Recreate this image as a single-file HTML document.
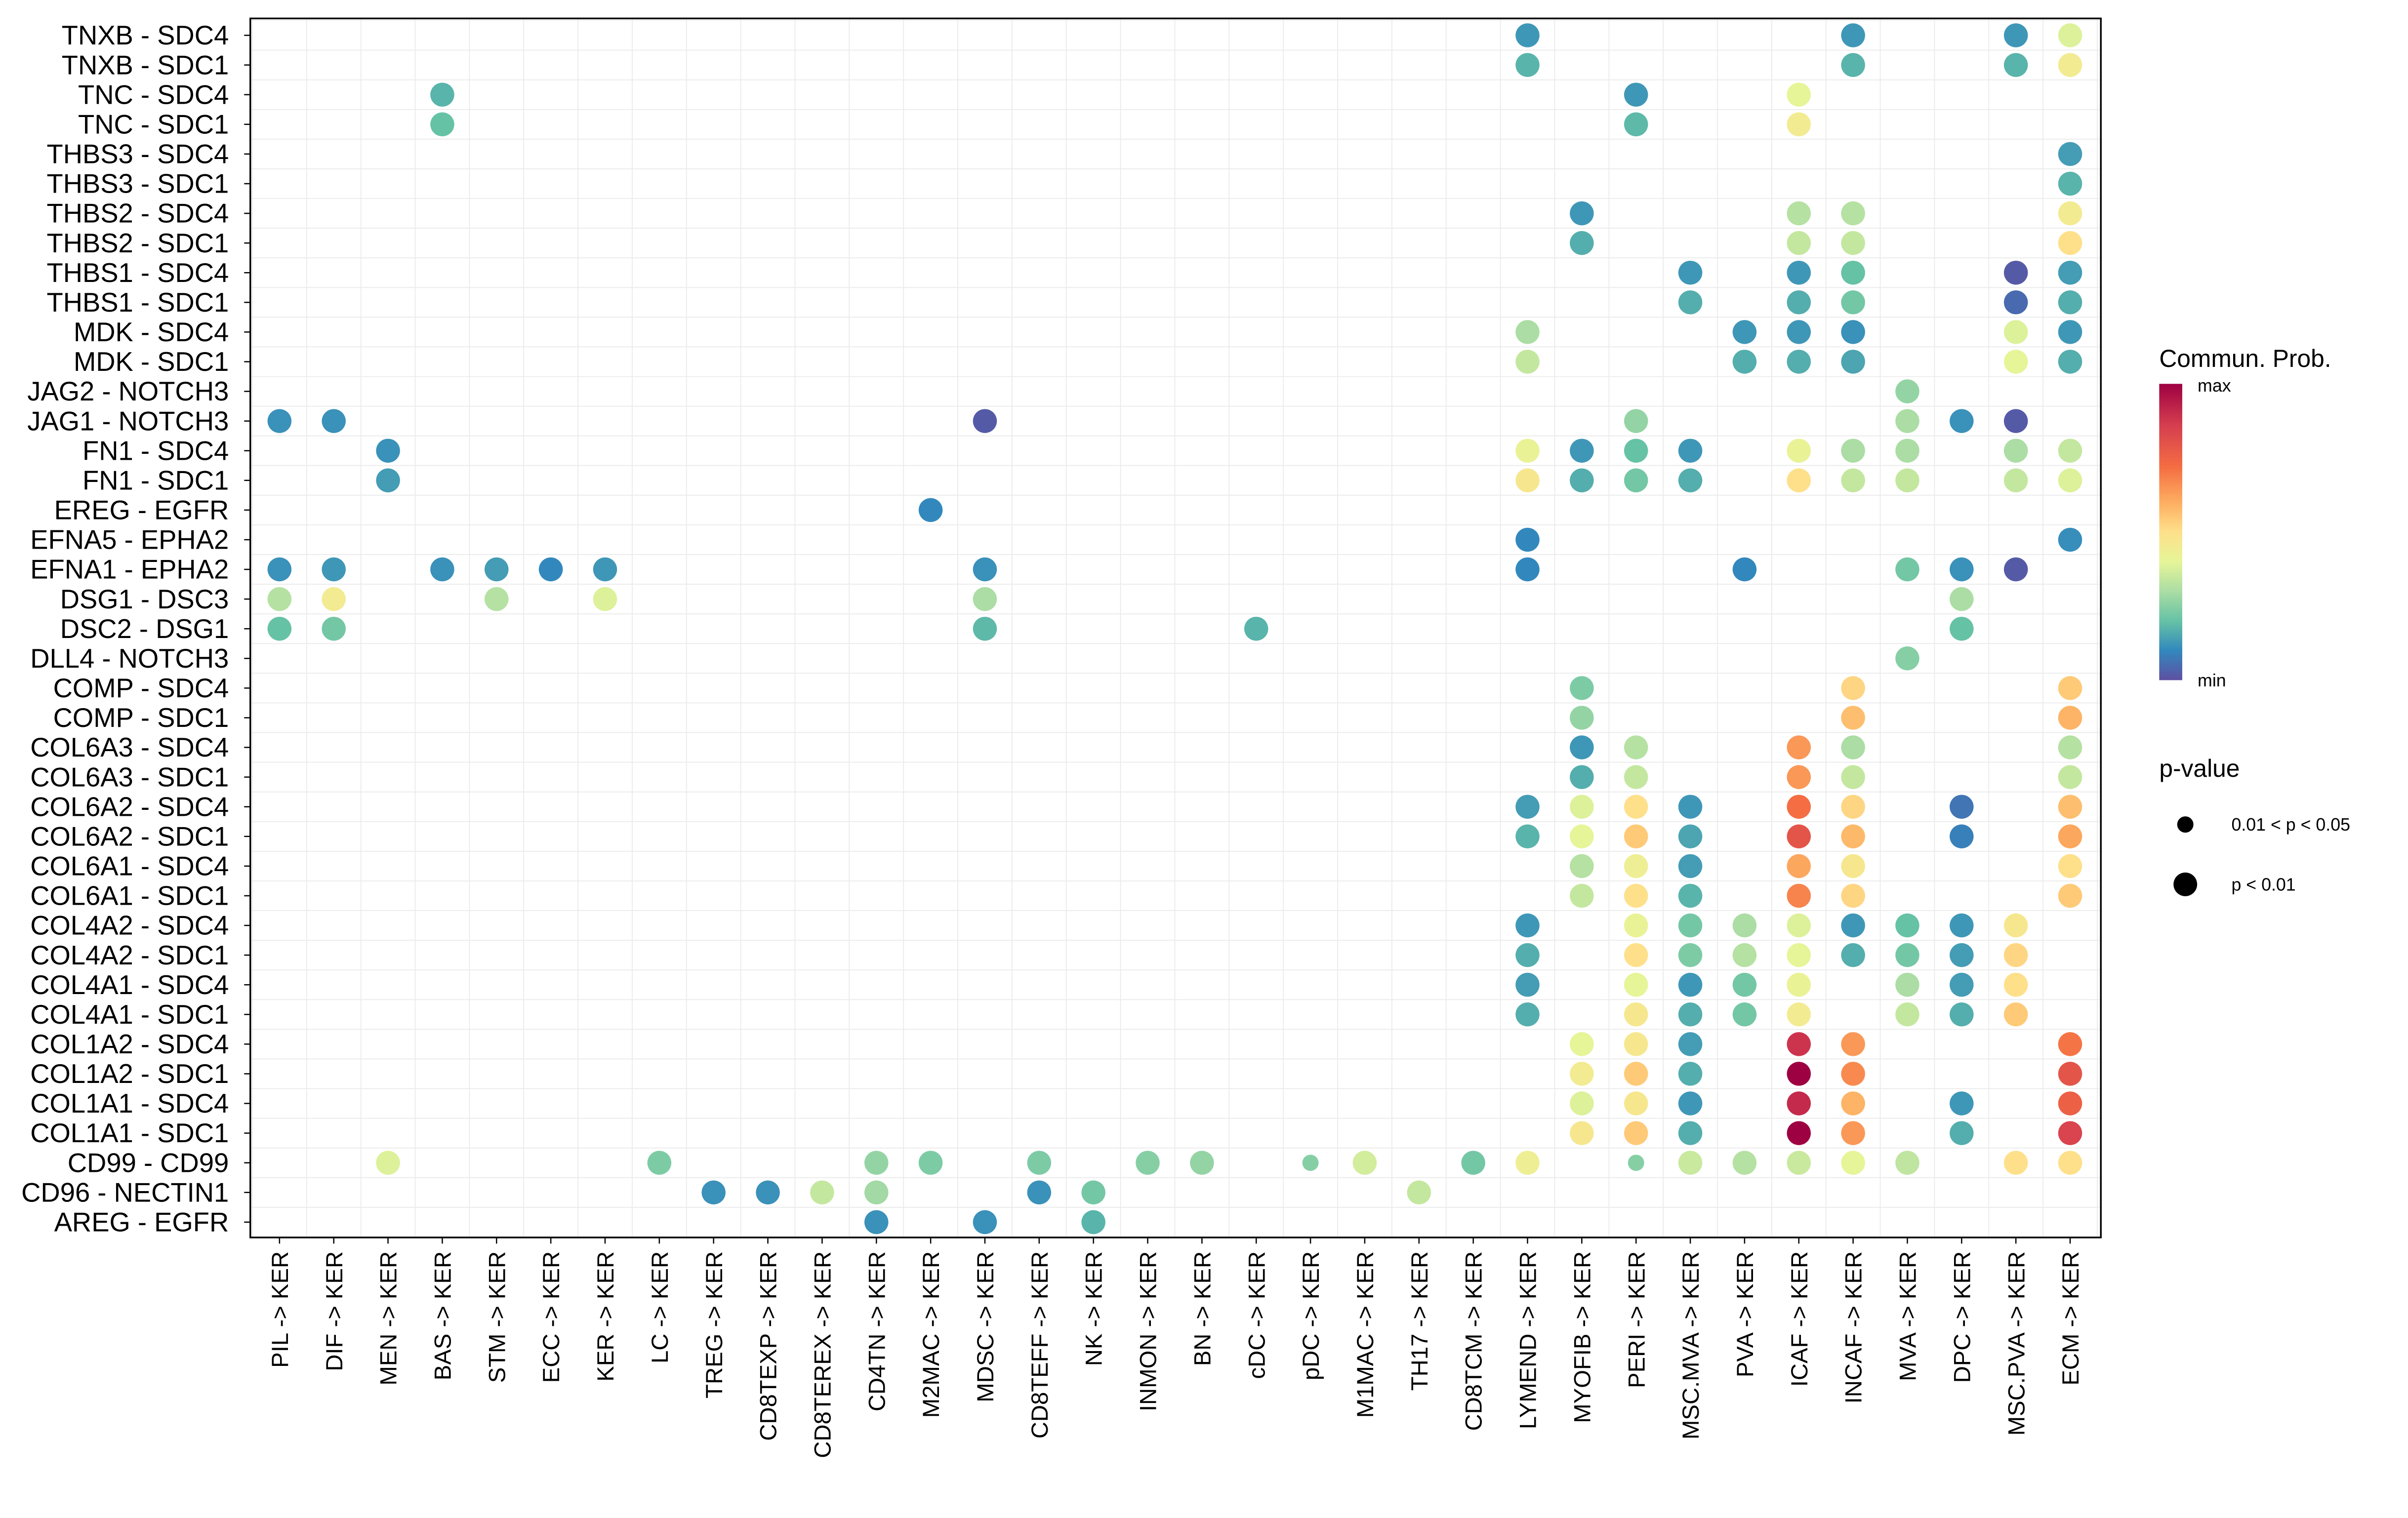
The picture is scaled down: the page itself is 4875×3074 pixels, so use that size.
<!DOCTYPE html>
<html><head><meta charset="utf-8">
<style>
html,body{margin:0;padding:0;background:#fff;}
svg{display:block;font-family:"Liberation Sans",sans-serif;}
</style></head>
<body>
<svg id="chart" width="4875" height="3074" viewBox="0 0 1568 988.7" xmlns="http://www.w3.org/2000/svg">
<defs>
<linearGradient id="cbar" x1="0" y1="1" x2="0" y2="0">
<stop offset="0" stop-color="#5E4FA2"/><stop offset="0.1" stop-color="#3288BD"/><stop offset="0.2" stop-color="#66C2A5"/><stop offset="0.3" stop-color="#ABDDA4"/><stop offset="0.4" stop-color="#E6F598"/><stop offset="0.5" stop-color="#FEE08B"/><stop offset="0.6" stop-color="#FDAE61"/><stop offset="0.72" stop-color="#F46D43"/><stop offset="0.86" stop-color="#D53E4F"/><stop offset="1" stop-color="#9E0142"/>
</linearGradient>
</defs>
<g id="grid"></g>
<g id="dots"></g>
<rect x="163" y="12" width="1205" height="794" fill="none" stroke="#000" stroke-width="1.1"/>
<g id="yax"></g>
<g id="xax"></g>
<g>
<text x="1406" y="239" font-size="16">Commun. Prob.</text>
<rect x="1406" y="250" width="15" height="193" fill="url(#cbar)"/>
<text x="1431" y="255" font-size="11.5">max</text>
<text x="1431" y="447" font-size="11.5">min</text>
</g>
<g>
<text x="1406" y="506" font-size="16">p-value</text>
<circle cx="1423" cy="537" r="5.3" fill="#000"/>
<text x="1453" y="541" font-size="11.5">0.01 &lt; p &lt; 0.05</text>
<circle cx="1423" cy="576" r="7.7" fill="#000"/>
<text x="1453" y="580" font-size="11.5">p &lt; 0.01</text>
</g>
</svg>
<script>
const rowLabels = ["TNXB - SDC4","TNXB - SDC1","TNC - SDC4","TNC - SDC1","THBS3 - SDC4","THBS3 - SDC1","THBS2 - SDC4","THBS2 - SDC1","THBS1 - SDC4","THBS1 - SDC1","MDK - SDC4","MDK - SDC1","JAG2 - NOTCH3","JAG1 - NOTCH3","FN1 - SDC4","FN1 - SDC1","EREG - EGFR","EFNA5 - EPHA2","EFNA1 - EPHA2","DSG1 - DSC3","DSC2 - DSG1","DLL4 - NOTCH3","COMP - SDC4","COMP - SDC1","COL6A3 - SDC4","COL6A3 - SDC1","COL6A2 - SDC4","COL6A2 - SDC1","COL6A1 - SDC4","COL6A1 - SDC1","COL4A2 - SDC4","COL4A2 - SDC1","COL4A1 - SDC4","COL4A1 - SDC1","COL1A2 - SDC4","COL1A2 - SDC1","COL1A1 - SDC4","COL1A1 - SDC1","CD99 - CD99","CD96 - NECTIN1","AREG - EGFR"];
const colLabels = ["PIL","DIF","MEN","BAS","STM","ECC","KER","LC","TREG","CD8TEXP","CD8TEREX","CD4TN","M2MAC","MDSC","CD8TEFF","NK","INMON","BN","cDC","pDC","M1MAC","TH17","CD8TCM","LYMEND","MYOFIB","PERI","MSC.MVA","PVA","ICAF","INCAF","MVA","DPC","MSC.PVA","ECM"];
const pointRows = [];
const pointCols = [];
const pointProb = [];
const pointSig = [];
const rawData = [
["TNXB - SDC4",[["LYMEND",.2],["INCAF",.2],["MSC.PVA",.2],["ECM",.6]]],
["TNXB - SDC1",[["LYMEND",.3],["INCAF",.3],["MSC.PVA",.3],["ECM",.65]]],
["TNC - SDC4",[["BAS",.3],["PERI",.2],["ICAF",.62]]],
["TNC - SDC1",[["BAS",.35],["PERI",.32],["ICAF",.65]]],
["THBS3 - SDC4",[["ECM",.22]]],
["THBS3 - SDC1",[["ECM",.3]]],
["THBS2 - SDC4",[["MYOFIB",.2],["ICAF",.52],["INCAF",.52],["ECM",.65]]],
["THBS2 - SDC1",[["MYOFIB",.28],["ICAF",.55],["INCAF",.55],["ECM",.68]]],
["THBS1 - SDC4",[["MSC.MVA",.2],["ICAF",.2],["INCAF",.35],["MSC.PVA",.03],["ECM",.22]]],
["THBS1 - SDC1",[["MSC.MVA",.28],["ICAF",.28],["INCAF",.38],["MSC.PVA",.07],["ECM",.28]]],
["MDK - SDC4",[["LYMEND",.5],["PVA",.2],["ICAF",.2],["INCAF",.18],["MSC.PVA",.6],["ECM",.2]]],
["MDK - SDC1",[["LYMEND",.55],["PVA",.28],["ICAF",.28],["INCAF",.25],["MSC.PVA",.62],["ECM",.28]]],
["JAG2 - NOTCH3",[["MVA",.45]]],
["JAG1 - NOTCH3",[["PIL",.18],["DIF",.18],["MDSC",.03],["PERI",.45],["MVA",.5],["DPC",.18],["MSC.PVA",.03]]],
["FN1 - SDC4",[["MEN",.18],["LYMEND",.63],["MYOFIB",.2],["PERI",.35],["MSC.MVA",.2],["ICAF",.63],["INCAF",.5],["MVA",.5],["MSC.PVA",.5],["ECM",.55]]],
["FN1 - SDC1",[["MEN",.22],["LYMEND",.66],["MYOFIB",.28],["PERI",.38],["MSC.MVA",.28],["ICAF",.68],["INCAF",.55],["MVA",.55],["MSC.PVA",.55],["ECM",.6]]],
["EREG - EGFR",[["M2MAC",.15]]],
["EFNA5 - EPHA2",[["LYMEND",.15],["ECM",.17]]],
["EFNA1 - EPHA2",[["PIL",.18],["DIF",.2],["BAS",.18],["STM",.22],["ECC",.15],["KER",.2],["MDSC",.18],["LYMEND",.15],["PVA",.15],["MVA",.38],["DPC",.18],["MSC.PVA",.03]]],
["DSG1 - DSC3",[["PIL",.52],["DIF",.65],["STM",.52],["KER",.6],["MDSC",.5],["DPC",.5]]],
["DSC2 - DSG1",[["PIL",.35],["DIF",.38],["MDSC",.32],["cDC",.3],["DPC",.35]]],
["DLL4 - NOTCH3",[["MVA",.42]]],
["COMP - SDC4",[["MYOFIB",.4],["INCAF",.7],["ECM",.72]]],
["COMP - SDC1",[["MYOFIB",.45],["INCAF",.74],["ECM",.76]]],
["COL6A3 - SDC4",[["MYOFIB",.2],["PERI",.52],["ICAF",.8],["INCAF",.5],["ECM",.52]]],
["COL6A3 - SDC1",[["MYOFIB",.28],["PERI",.55],["ICAF",.8],["INCAF",.55],["ECM",.55]]],
["COL6A2 - SDC4",[["LYMEND",.22],["MYOFIB",.6],["PERI",.68],["MSC.MVA",.2],["ICAF",.86],["INCAF",.7],["DPC",.1],["ECM",.74]]],
["COL6A2 - SDC1",[["LYMEND",.3],["MYOFIB",.62],["PERI",.72],["MSC.MVA",.25],["ICAF",.9],["INCAF",.75],["DPC",.13],["ECM",.78]]],
["COL6A1 - SDC4",[["MYOFIB",.52],["PERI",.64],["MSC.MVA",.22],["ICAF",.78],["INCAF",.66],["ECM",.68]]],
["COL6A1 - SDC1",[["MYOFIB",.55],["PERI",.68],["MSC.MVA",.3],["ICAF",.83],["INCAF",.7],["ECM",.72]]],
["COL4A2 - SDC4",[["LYMEND",.2],["PERI",.63],["MSC.MVA",.38],["PVA",.5],["ICAF",.6],["INCAF",.2],["MVA",.35],["DPC",.2],["MSC.PVA",.66]]],
["COL4A2 - SDC1",[["LYMEND",.28],["PERI",.68],["MSC.MVA",.4],["PVA",.52],["ICAF",.62],["INCAF",.28],["MVA",.38],["DPC",.22],["MSC.PVA",.7]]],
["COL4A1 - SDC4",[["LYMEND",.22],["PERI",.62],["MSC.MVA",.2],["PVA",.38],["ICAF",.63],["MVA",.5],["DPC",.22],["MSC.PVA",.68]]],
["COL4A1 - SDC1",[["LYMEND",.28],["PERI",.66],["MSC.MVA",.28],["PVA",.38],["ICAF",.65],["MVA",.55],["DPC",.28],["MSC.PVA",.72]]],
["COL1A2 - SDC4",[["MYOFIB",.62],["PERI",.66],["MSC.MVA",.22],["ICAF",.95],["INCAF",.8],["ECM",.85]]],
["COL1A2 - SDC1",[["MYOFIB",.65],["PERI",.72],["MSC.MVA",.28],["ICAF",1],["INCAF",.82],["ECM",.9]]],
["COL1A1 - SDC4",[["MYOFIB",.6],["PERI",.66],["MSC.MVA",.2],["ICAF",.96],["INCAF",.76],["DPC",.2],["ECM",.88]]],
["COL1A1 - SDC1",[["MYOFIB",.66],["PERI",.72],["MSC.MVA",.28],["ICAF",1],["INCAF",.8],["DPC",.28],["ECM",.93]]],
["CD99 - CD99",[["MEN",.6],["LC",.4],["CD4TN",.45],["M2MAC",.4],["CD8TEFF",.4],["INMON",.42],["BN",.45],["pDC",.42,0],["M1MAC",.58],["CD8TCM",.38],["LYMEND",.64],["PERI",.42,0],["MSC.MVA",.56],["PVA",.52],["ICAF",.56],["INCAF",.62],["MVA",.54],["MSC.PVA",.68],["ECM",.68]]],
["CD96 - NECTIN1",[["TREG",.18],["CD8TEXP",.18],["CD8TEREX",.55],["CD4TN",.48],["CD8TEFF",.18],["NK",.38],["TH17",.55]]],
["AREG - EGFR",[["CD4TN",.18],["MDSC",.18],["NK",.3]]]
];
rawData.forEach(([r, list]) => list.forEach(p => {
  pointRows.push(r); pointCols.push(p[0]); pointProb.push(p[1]); pointSig.push(p.length > 2 ? p[2] : 1);
}));

const NS = "http://www.w3.org/2000/svg";
const x0 = 182, dx = (1348 - 182) / 33, y0 = 23, dy = (796 - 23) / 40;
function xScale(c){ return x0 + colLabels.indexOf(c) * dx; }
function yScale(r){ return y0 + rowLabels.indexOf(r) * dy; }
const stops = [[0,[94,79,162]],[0.15,[50,136,189]],[0.35,[102,194,165]],[0.5,[171,221,164]],[0.62,[230,245,152]],[0.68,[254,224,139]],[0.77,[253,174,97]],[0.86,[244,109,67]],[0.94,[213,62,79]],[1,[158,1,66]]];
function colorScale(v){
  for (let i = 1; i < stops.length; i++) {
    if (v <= stops[i][0]) {
      const a = stops[i-1], b = stops[i], t = (v - a[0]) / (b[0] - a[0]);
      const c = a[1].map((q, k) => Math.round(q + (b[1][k] - q) * t));
      return `rgb(${c.join(",")})`;
    }
  }
  return "rgb(158,1,66)";
}
function mk(tag, attrs, parent){
  const el = document.createElementNS(NS, tag);
  for (const k in attrs) el.setAttribute(k, attrs[k]);
  parent.appendChild(el);
  return el;
}
const grid = document.getElementById("grid");
for (let i = 0; i <= colLabels.length; i++) {
  const x = x0 + (i - 0.5) * dx;
  const l = mk("line", {x1:x, x2:x, y1:12, y2:806, stroke:"#ebebeb", "stroke-width":0.6}, grid);
  
  
}
for (let i = 0; i <= rowLabels.length; i++) {
  const y = y0 + (i - 0.5) * dy;
  const l = mk("line", {x1:163, x2:1368, y1:y, y2:y, stroke:"#ebebeb", "stroke-width":0.6}, grid);
  
  
}
const yax = document.getElementById("yax");
rowLabels.forEach(r => {
  const y = yScale(r);
  const t = mk("text", {x:149, y:y + 6, "font-size":17.5, "text-anchor":"end"}, yax);
  t.textContent = r;
  
  
  const k = mk("line", {x1:159, x2:163, y1:y, y2:y, stroke:"#000", "stroke-width":0.8}, yax);
  
  
});
const xax = document.getElementById("xax");
colLabels.forEach(c => {
  const x = xScale(c);
  const k = mk("line", {x1:x, x2:x, y1:806, y2:810, stroke:"#000", "stroke-width":0.8}, xax);
  
  
  const t = mk("text", {x:0, y:0, "font-size":15.2, "text-anchor":"end", transform:`translate(${x + 5.5},815) rotate(-90)`}, xax);
  t.textContent = c + " -> KER";
  
  
});
const dots = document.getElementById("dots");
for (let i = 0; i < pointProb.length; i++) {
  const c = mk("circle", {cx:xScale(pointCols[i]), cy:yScale(pointRows[i]), r:pointSig[i] ? 7.8 : 5.3, fill:colorScale(pointProb[i])}, dots);
  
  
}
</script>
</body></html>
